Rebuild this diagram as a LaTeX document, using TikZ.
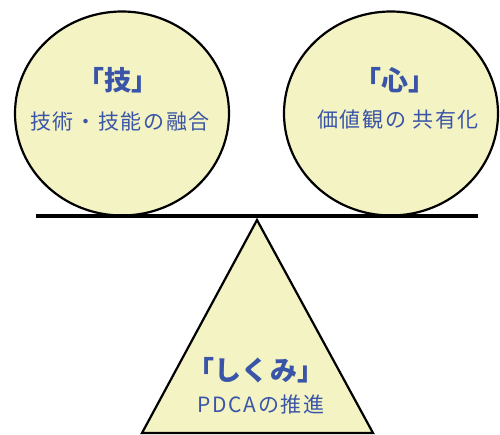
\documentclass[tikz,border=0pt]{standalone}
\usepackage{fontspec}
\newfontfamily\jp{Noto Sans CJK JP}
\newfontfamily\jpsp[LetterSpace=8]{Noto Sans CJK JP}
\definecolor{pale}{HTML}{F3F3C4}
\definecolor{ink}{HTML}{3A55A8}
\begin{document}
\begin{tikzpicture}[x=1pt,y=-1pt,
  ball/.style={draw=black,line width=2.2pt,fill=pale},
  title/.style={text=ink,font=\jp\bfseries\fontsize{27}{30}\selectfont,inner sep=0pt},
  sub/.style={text=ink,font=\jpsp\fontsize{21}{25}\selectfont,inner sep=0pt}]
\useasboundingbox (0,0) rectangle (500,435);
% circles
\draw[ball] (122,113.5) ellipse [x radius=107, y radius=102];
\draw[ball] (391,113.5) ellipse [x radius=107, y radius=102];
% triangle
\coordinate (apex) at (257,220);
\coordinate (bl) at (142,433);
\coordinate (br) at (373,433);
\draw[ball,line join=miter] (apex) -- (br) -- (bl) -- cycle;
% beam
\coordinate (beamL) at (36,216);
\coordinate (beamR) at (478,216);
\draw[line width=4pt] (beamL) -- (beamR);
% texts
\node[title] (t1) at (117.5,80) {「技」};
\node[sub] (s1) at (120,122) {技術・技能の融合};
\node[title] (t2) at (395,80) {「心」};
\node[sub] (s2) at (398,120) {価値観の 共有化};
\node[title] (t3) at (256,370) {「しくみ」};
\node[sub] (s3) at (261,404) {PDCAの推進};
\end{tikzpicture}
\end{document}
